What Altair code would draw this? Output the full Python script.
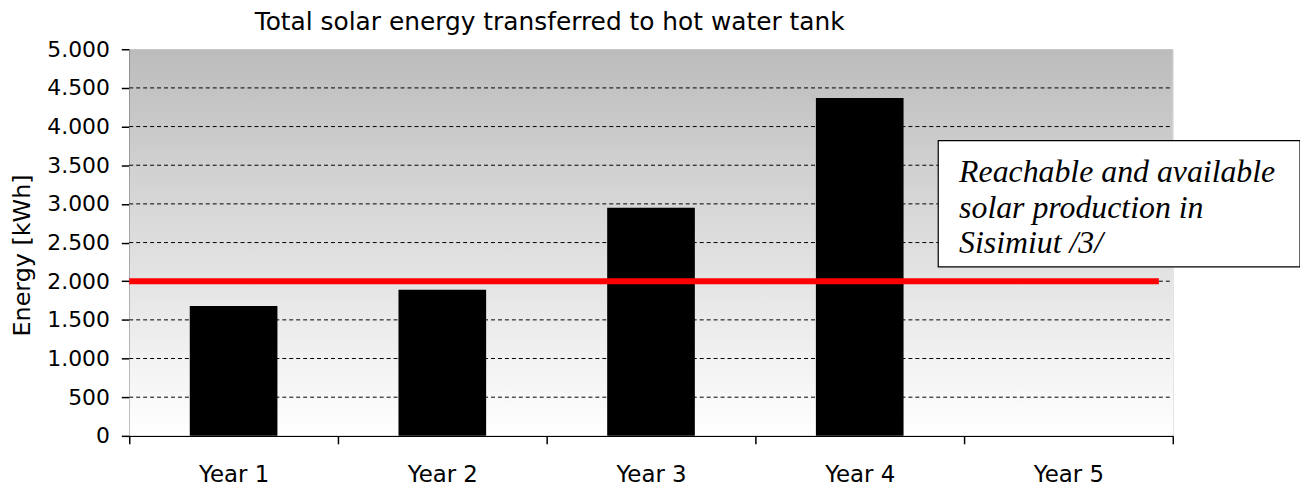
import altair as alt
import pandas as pd

years = ["Year 1", "Year 2", "Year 3", "Year 4", "Year 5"]
energy = [1680, 1890, 2950, 4370, 0]
grid_values = [500, 1000, 1500, 2000, 2500, 3000, 3500, 4000, 4500]
y_ticks = [0, 500, 1000, 1500, 2000, 2500, 3000, 3500, 4000, 4500, 5000]
target_value = [2000]
note_lines = ["Reachable and available", "solar production in", "Sisimiut /3/"]
title_text = "Total solar energy transferred to hot water tank"
y_title = "Energy [kWh]"

W, H = 1050, 389
FONT = "DejaVu Sans"

bars_df = pd.DataFrame({"year": years, "energy": energy})
grid_df = pd.DataFrame({"energy": grid_values})
target_df = pd.DataFrame({"energy": target_value})

xscale = alt.Scale(domain=years, paddingInner=0, paddingOuter=0)
yscale = alt.Scale(domain=[0, 5000], nice=False)

y_axis = alt.Axis(title=y_title, values=y_ticks, grid=False, tickSize=8,
                  labelOverlap=False, tickCount=11,
                  tickColor="#000000", domainColor="#000000", domainWidth=1.5,
                  tickWidth=1.5, labelFont=FONT, labelFontSize=22,
                  labelColor="#000000", labelPadding=12,
                  labelExpr="replace(format(datum.value, ',d'), ',', '.')",
                  titleFont=FONT, titleFontSize=24, titleFontWeight="normal",
                  titleColor="#000000", titleAngle=270, titleX=-107, titleY=207,
                  titleAlign="center", titleBaseline="middle")

background = alt.Chart(pd.DataFrame({"a": [0]})).mark_rect(
    color=alt.LinearGradient(
        gradient="linear", x1=0, y1=0, x2=0, y2=1,
        stops=[alt.GradientStop(offset=0, color="#bcbcbc"),
               alt.GradientStop(offset=1, color="#ffffff")],
    )
).encode(x=alt.value(0), x2=alt.value(W), y=alt.value(0), y2=alt.value(H))

grid = alt.Chart(grid_df).mark_rule(color="#000000", strokeWidth=1, strokeDash=[4, 3]).encode(
    y=alt.Y("energy:Q", scale=yscale, axis=y_axis),
    x=alt.value(0), x2=alt.value(W),
)

bars = alt.Chart(bars_df).mark_bar(color="#000000", width=alt.RelativeBandSize(0.42)).encode(
    x=alt.X("year:N", scale=xscale, sort=years,
            axis=alt.Axis(title=None, labelAngle=0, tickBand="extent", tickSize=8,
                          tickColor="#000000", domainColor="#000000", domainWidth=1.5,
                          tickWidth=1.5, labelFont=FONT, labelFontSize=23,
                          labelColor="#000000", labelPadding=20)),
    y=alt.Y("energy:Q", scale=yscale, axis=y_axis),
)

target = alt.Chart(target_df).mark_rule(color="#ff0000", strokeWidth=6).encode(
    y=alt.Y("energy:Q", scale=yscale, axis=y_axis),
    x=alt.value(0), x2=alt.value(1036),
)

note_box = alt.Chart(pd.DataFrame({"a": [0]})).mark_rect(
    fill="#ffffff", stroke="#000000", strokeWidth=1.2
).encode(x=alt.value(814), x2=alt.value(1178), y=alt.value(92), y2=alt.value(219))

note_text = alt.Chart(pd.DataFrame({"t": [note_lines]})).mark_text(
    align="left", baseline="alphabetic", font="Liberation Serif", fontStyle="italic",
    fontSize=32, lineHeight=35.5, color="#000000"
).encode(x=alt.value(835), y=alt.value(134), text="t")

chart = alt.layer(background, grid, bars, target, note_box, note_text).properties(
    width=W, height=H,
    title=alt.TitleParams(title_text, font=FONT, fontSize=25, fontWeight="normal",
                          color="#000000", anchor="middle", dx=-102, offset=3),
    autosize=alt.AutoSizeParams(type="none"),
    padding={"left": 122, "top": 40, "right": 128, "bottom": 56},
).configure_view(stroke="#333333", strokeWidth=1.2).configure(background="#ffffff")

chart.save("out.html", embed_options={"renderer": "svg", "actions": False})
